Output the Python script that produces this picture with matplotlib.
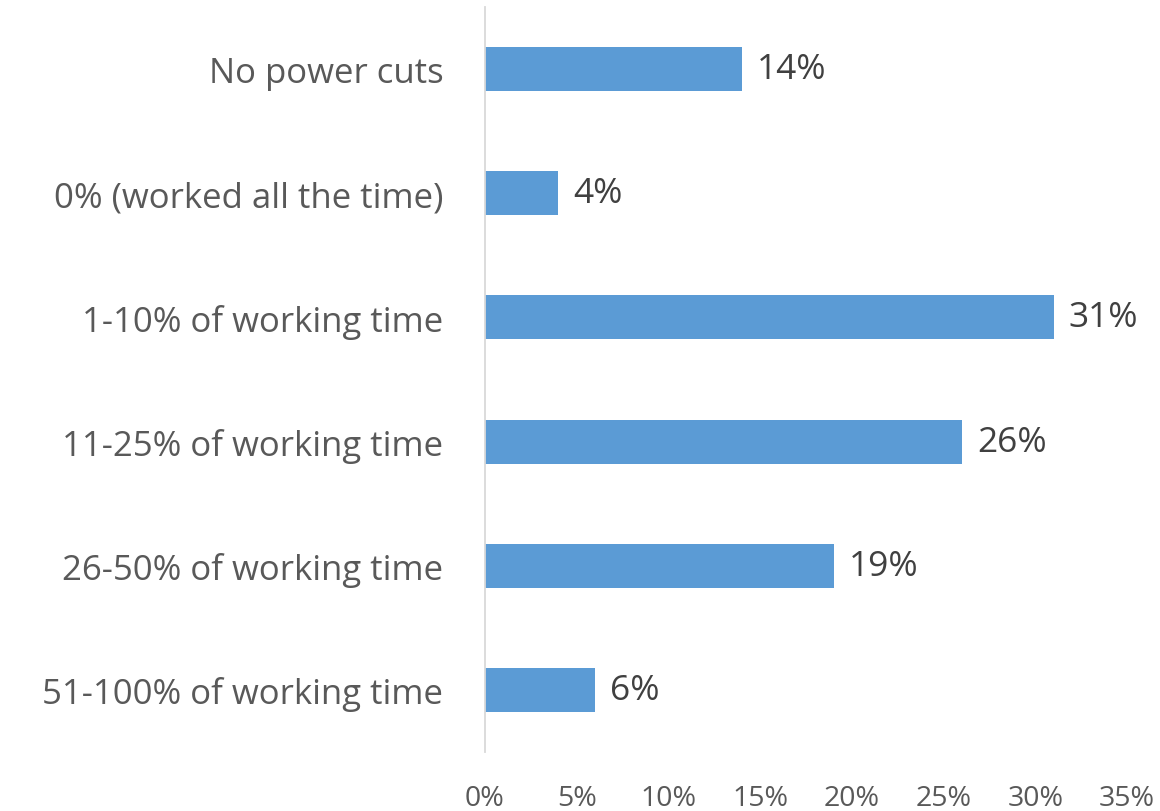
import matplotlib
matplotlib.use("Agg")
import matplotlib.pyplot as plt
from matplotlib.ticker import FuncFormatter

# Share of working time lost to power cuts
categories = [
    "No power cuts",
    "0% (worked all the time)",
    "1-10% of working time",
    "11-25% of working time",
    "26-50% of working time",
    "51-100% of working time",
]
shares = [14, 4, 31, 26, 19, 6]
x_ticks = [0, 5, 10, 15, 20, 25, 30, 35]

plt.rcParams["font.family"] = ["Open Sans", "DejaVu Sans"]

fig = plt.figure(figsize=(11.6, 8.12), dpi=100)
ax = fig.add_axes([485 / 1160, 1 - 753 / 812, (1127 - 485) / 1160, (753 - 8) / 812])

ypos = list(range(len(categories)))
bars = ax.barh(ypos, shares, height=0.355, color="#5B9BD5", zorder=2)

ax.set_xlim(0, 35)
ax.set_ylim(len(categories) - 0.5, -0.5)

ax.set_yticks(ypos)
ax.set_yticklabels(categories, fontsize=25, color="#595959")
ax.set_xticks(x_ticks)
ax.xaxis.set_major_formatter(FuncFormatter(lambda v, p: f"{v:.0f}%"))
ax.tick_params(axis="x", labelsize=20.5, colors="#595959", length=0, pad=23)
ax.tick_params(axis="y", length=0, pad=30)

for side in ("top", "right", "bottom"):
    ax.spines[side].set_visible(False)
ax.spines["left"].set_color("#D9D9D9")
ax.spines["left"].set_linewidth(1.3)

ax.bar_label(bars, labels=[f"{v}%" for v in shares], padding=11,
             fontsize=25.5, color="#404040")

fig.savefig("out.png", dpi=100)
